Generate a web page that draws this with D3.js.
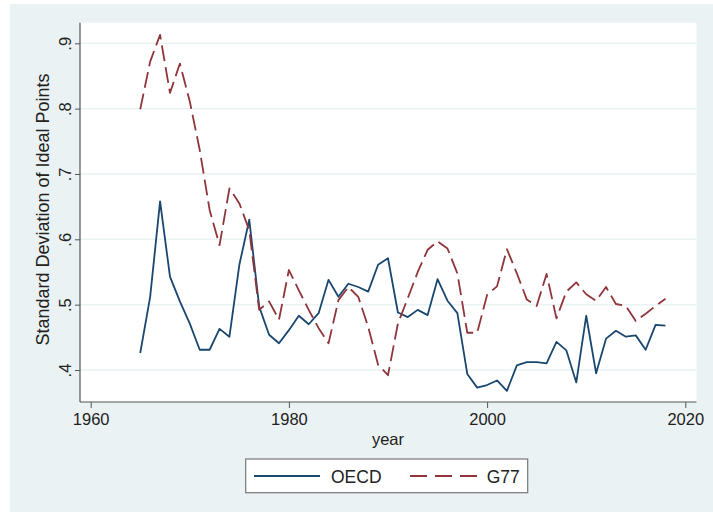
<!DOCTYPE html>
<html>
<head>
<meta charset="utf-8">
<script src="https://cdn.jsdelivr.net/npm/d3@7"></script>
<style>
  html, body { margin: 0; padding: 0; background: #ffffff; }
  svg { display: block; font-family: "Liberation Sans", Arial, Helvetica, sans-serif; }
</style>
</head>
<body>
<svg id="chart" width="713" height="515"></svg>
<script>
const years = d3.range(1965, 2019);
const oecd = [0.426, 0.512, 0.658, 0.543, 0.505, 0.471, 0.431, 0.431, 0.463, 0.451,
              0.561, 0.630, 0.497, 0.454, 0.441, 0.461, 0.483, 0.470, 0.487, 0.538,
              0.512, 0.532, 0.527, 0.520, 0.561, 0.571, 0.488, 0.481, 0.492, 0.484,
              0.539, 0.506, 0.487, 0.394, 0.373, 0.377, 0.384, 0.368, 0.407, 0.412,
              0.412, 0.410, 0.443, 0.430, 0.381, 0.483, 0.395, 0.448, 0.460, 0.451,
              0.453, 0.431, 0.469, 0.468];
const g77 = [0.799, 0.872, 0.913, 0.824, 0.869, 0.811, 0.737, 0.645, 0.591, 0.678,
             0.655, 0.614, 0.492, 0.505, 0.477, 0.553, 0.522, 0.492, 0.464, 0.441,
             0.507, 0.527, 0.512, 0.466, 0.408, 0.392, 0.471, 0.510, 0.550, 0.584,
             0.597, 0.586, 0.548, 0.457, 0.457, 0.515, 0.528, 0.585, 0.548, 0.508,
             0.498, 0.547, 0.479, 0.520, 0.534, 0.516, 0.506, 0.527, 0.501, 0.498,
             0.475, 0.486, 0.498, 0.509];
const xTicks = [1960, 1980, 2000, 2020];
const yTicks = [0.4, 0.5, 0.6, 0.7, 0.8, 0.9];
const seriesNames = ["OECD", "G77"];
const colors = ["#1a476f", "#90353b"];

const svg = d3.select("#chart");
const plot = { left: 80, right: 696.5, top: 22.7, bottom: 402 };

const x = d3.scaleLinear().domain([1960, 2020]).range([90.7, 685.3]);
const y = d3.scaleLinear().domain([0.4, 0.9]).range([370, 43.3]);

// outer graph region
svg.append("rect").attr("x", 10).attr("y", 4).attr("width", 703).attr("height", 508)
  .attr("fill", "#eaf2f3");
// plot region
svg.append("rect").attr("x", plot.left).attr("y", plot.top)
  .attr("width", plot.right - plot.left).attr("height", plot.bottom - plot.top)
  .attr("fill", "#ffffff");

// grid lines
svg.append("g").selectAll("line").data(yTicks).join("line")
  .attr("x1", plot.left).attr("x2", plot.right)
  .attr("y1", d => y(d)).attr("y2", d => y(d))
  .attr("stroke", "#eaf2f3").attr("stroke-width", 1.5);

// x axis
const xAxis = svg.append("g").attr("transform", `translate(0,${plot.bottom})`)
  .call(d3.axisBottom(x).tickValues(xTicks).tickFormat(d3.format("d")).tickSize(6).tickPadding(5));
xAxis.select(".domain").remove();
xAxis.selectAll(".tick line").attr("stroke", "#555").attr("stroke-width", 1);
xAxis.selectAll(".tick text").attr("fill", "#222").attr("font-size", "16.5px")
  .attr("font-family", "Liberation Sans, Arial, sans-serif");
svg.append("line").attr("x1", plot.left).attr("x2", plot.right)
  .attr("y1", plot.bottom).attr("y2", plot.bottom).attr("stroke", "#555").attr("stroke-width", 1.2);

// y axis
const yAxis = svg.append("g").attr("transform", `translate(${plot.left},0)`)
  .call(d3.axisLeft(y).tickValues(yTicks).tickSize(5)
    .tickFormat(d => d3.format(".1f")(d).replace(/^0/, "")));
yAxis.select(".domain").remove();
yAxis.selectAll(".tick line").attr("stroke", "#555").attr("stroke-width", 1);
yAxis.selectAll(".tick text")
  .attr("x", null).attr("dy", null)
  .attr("text-anchor", "middle")
  .attr("transform", "translate(-9,0) rotate(-90)")
  .attr("fill", "#222").attr("font-size", "16.5px")
  .attr("font-family", "Liberation Sans, Arial, sans-serif");
svg.append("line").attr("x1", plot.left).attr("x2", plot.left)
  .attr("y1", plot.top).attr("y2", plot.bottom).attr("stroke", "#555").attr("stroke-width", 1.2);

// axis titles
svg.append("text").attr("x", 388).attr("y", 445).attr("text-anchor", "middle")
  .attr("font-size", "16.5px").attr("fill", "#222").text("year");
svg.append("text").attr("transform", "translate(48.5,209.5) rotate(-90)")
  .attr("text-anchor", "middle").attr("font-size", "18px").attr("fill", "#222")
  .text("Standard Deviation of Ideal Points");

// lines
const line = d3.line().x((d, i) => x(years[i])).y(d => y(d));
svg.append("path").datum(oecd).attr("d", line).attr("fill", "none")
  .attr("stroke", colors[0]).attr("stroke-width", 1.8).attr("stroke-linejoin", "round");
svg.append("path").datum(g77).attr("d", line).attr("fill", "none")
  .attr("stroke", colors[1]).attr("stroke-width", 1.8).attr("stroke-linejoin", "round")
  .attr("stroke-dasharray", "16,6");

// legend
const lg = svg.append("g");
lg.append("rect").attr("x", 245.7).attr("y", 459).attr("width", 282).attr("height", 33.7)
  .attr("fill", "#ffffff").attr("stroke", "#777").attr("stroke-width", 1.2);
lg.append("line").attr("x1", 254).attr("x2", 320).attr("y1", 476).attr("y2", 476)
  .attr("stroke", colors[0]).attr("stroke-width", 1.8);
lg.append("text").attr("x", 331).attr("y", 482.7).attr("font-size", "17.5px").attr("fill", "#222")
  .text(seriesNames[0]);
lg.append("line").attr("x1", 410).attr("x2", 477).attr("y1", 476).attr("y2", 476)
  .attr("stroke", colors[1]).attr("stroke-width", 1.8).attr("stroke-dasharray", "17,8");
lg.append("text").attr("x", 486.7).attr("y", 482.7).attr("font-size", "17.5px").attr("fill", "#222")
  .text(seriesNames[1]);
</script>
</body>
</html>
